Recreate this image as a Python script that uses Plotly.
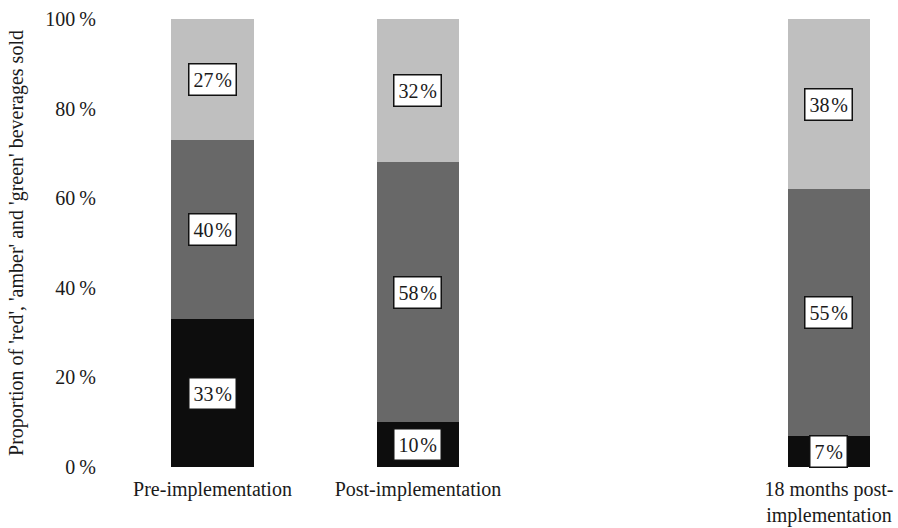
import plotly.graph_objects as go

# Periods and their positions on the time axis (the 18-month point sits further out)
periods = ["Pre-implementation", "Post-implementation", "18 months post-<br>implementation"]
positions = [0, 1, 3]

# Share of beverages sold by traffic-light category (%)
red = [33, 10, 7]
amber = [40, 58, 55]
green = [27, 32, 38]

series = [
    ("red", red, "#0d0d0d"),
    ("amber", amber, "#686868"),
    ("green", green, "#bfbfbf"),
]

FONT = "Liberation Serif, Times New Roman, serif"
THIN = "\u2009"
HAIR = "\u200a"

fig = go.Figure()
for name, vals, col in series:
    fig.add_trace(go.Bar(
        x=positions, y=vals, name=name, width=0.4,
        marker=dict(color=col, line=dict(width=0)),
        hoverinfo="skip",
    ))

# Boxed value labels centred in each stacked segment
base = [0, 0, 0]
for name, vals, col in series:
    for i, v in enumerate(vals):
        fig.add_annotation(
            x=positions[i], y=base[i] + v / 2, text=f"{v}{HAIR}%",
            showarrow=False, xref="x", yref="y",
            font=dict(family=FONT, size=20, color="#1a1a1a"),
            bgcolor="white", bordercolor="#111111", borderwidth=1.5, borderpad=4,
        )
        base[i] += v

fig.update_layout(
    barmode="stack",
    width=898, height=528,
    margin=dict(l=105, r=8, t=19, b=61),
    paper_bgcolor="white", plot_bgcolor="white",
    showlegend=False,
    font=dict(family=FONT, size=20, color="#1a1a1a"),
    xaxis=dict(
        range=[-0.523, 3.297], tickvals=positions, ticktext=periods,
        showgrid=False, zeroline=False, showline=False, ticks="",
        tickfont=dict(size=20), ticklabelstandoff=8, automargin=False,
    ),
    yaxis=dict(
        range=[0, 100], tickvals=[0, 20, 40, 60, 80, 100],
        ticktext=[f"{t}{THIN}%" for t in [0, 20, 40, 60, 80, 100]],
        showgrid=False, zeroline=False, showline=False, ticks="",
        tickfont=dict(size=20), ticklabelstandoff=8, automargin=False,
        title=dict(text="Proportion of 'red', 'amber' and 'green' beverages sold",
                   font=dict(size=20), standoff=16),
    ),
)

fig.write_html("out.html")
